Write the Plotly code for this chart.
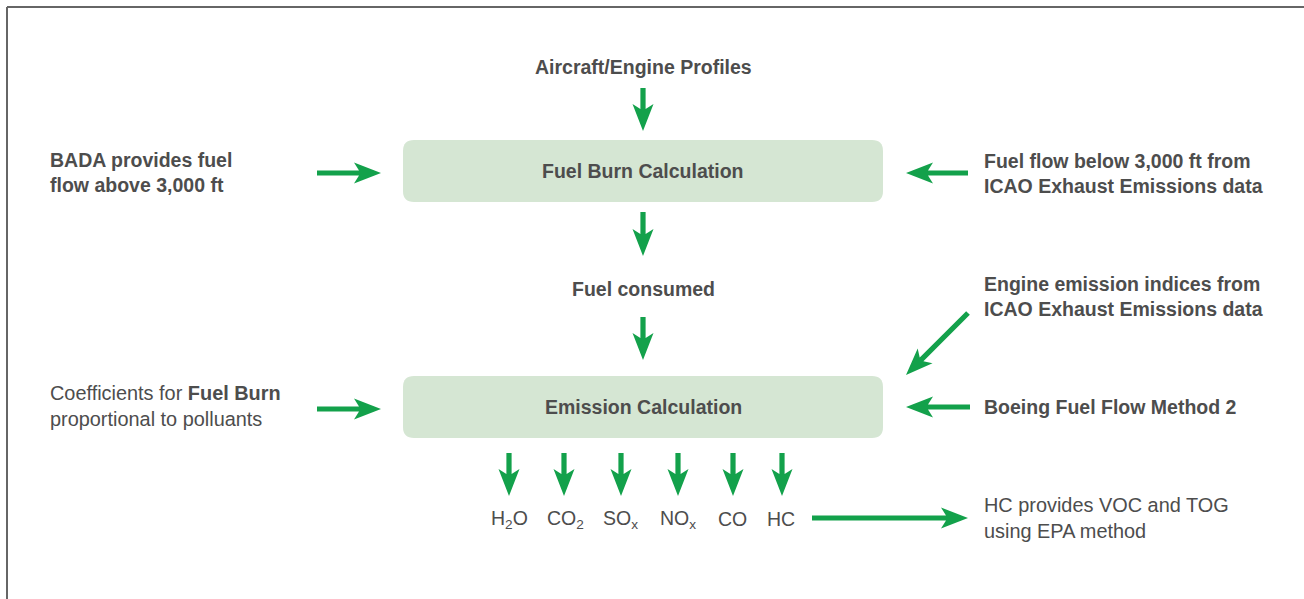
import math
import plotly.graph_objects as go

# ---------------- content ----------------
box_labels = ["Fuel Burn Calculation", "Emission Calculation"]
box_centers_y = [171, 407]
box_left, box_right, box_height = 403, 883, 62
center_x = 643

flow_labels = ["<b>Aircraft/Engine Profiles</b>", "<b>Fuel consumed</b>"]
flow_label_y = [67, 289]

left_labels = ["<b>BADA provides fuel<br>flow above 3,000 ft</b>",
               "Coefficients for <b>Fuel Burn</b><br>proportional to polluants"]
left_label_y = [172, 406]
left_label_size = [19.5, 19.9]

right_labels = ["<b>Fuel flow below 3,000 ft from<br>ICAO Exhaust Emissions data</b>",
                "<b>Engine emission indices from<br>ICAO Exhaust Emissions data</b>",
                "<b>Boeing Fuel Flow Method 2</b>",
                "HC provides VOC and TOG<br>using EPA method"]
right_label_y = [173, 296, 407, 518]
right_label_size = [19.5, 19.5, 19.5, 19.9]

pollutants = ["H<sub>2</sub>O", "CO<sub>2</sub>", "SO<sub>x</sub>", "NO<sub>x</sub>", "CO", "HC"]
pollutant_x = [509, 564, 621, 678, 733, 782]
pollutant_label_x = [509, 565, 620, 678, 732, 781]
pollutant_y = 519

GREEN = "#13a14b"
BOX_FILL = "#d5e6d3"
TEXT = "#4d4d4d"
FONT = "Liberation Sans, Arial, sans-serif"
W, H = 1304, 599


def arrow_path(x0, y0, x1, y1, shaft=2.6, head_len=27, head_w=10.5, notch=5):
    dx, dy = x1 - x0, y1 - y0
    L = math.hypot(dx, dy)
    ux, uy = dx / L, dy / L
    px, py = -uy, ux
    local = [(0, shaft), (L - head_len + notch, shaft), (L - head_len, head_w), (L, 0),
             (L - head_len, -head_w), (L - head_len + notch, -shaft), (0, -shaft)]
    pts = [(x0 + u * ux + v * px, y0 + u * uy + v * py) for u, v in local]
    return "M " + " L ".join(f"{x:.2f},{y:.2f}" for x, y in pts) + " Z"


def round_rect(x0, y0, x1, y1, r=11):
    return (f"M {x0+r},{y0} L {x1-r},{y0} Q {x1},{y0} {x1},{y0+r} "
            f"L {x1},{y1-r} Q {x1},{y1} {x1-r},{y1} L {x0+r},{y1} "
            f"Q {x0},{y1} {x0},{y1-r} L {x0},{y0+r} Q {x0},{y0} {x0+r},{y0} Z")


fig = go.Figure()
shapes = []
annotations = []

# frame
shapes.append(dict(type="line", x0=7, y0=7, x1=W, y1=7, line=dict(color="#666666", width=2)))
shapes.append(dict(type="line", x0=7, y0=7, x1=7, y1=H, line=dict(color="#666666", width=2)))

# boxes
for lab, cy in zip(box_labels, box_centers_y):
    shapes.append(dict(type="path", path=round_rect(box_left, cy - box_height / 2, box_right, cy + box_height / 2),
                       fillcolor=BOX_FILL, line=dict(width=0), layer="below"))
    annotations.append(dict(x=center_x, y=cy, text=f"<b>{lab}</b>", showarrow=False,
                            font=dict(size=19.5, color=TEXT, family=FONT)))

for lab, y in zip(flow_labels, flow_label_y):
    annotations.append(dict(x=center_x, y=y, text=lab, showarrow=False,
                            font=dict(size=19.5, color=TEXT, family=FONT)))

for lab, y, s in zip(left_labels, left_label_y, left_label_size):
    annotations.append(dict(x=48, y=y, text=lab, showarrow=False, xanchor="left", align="left",
                            font=dict(size=s, color=TEXT, family=FONT)))

for lab, y, s in zip(right_labels, right_label_y, right_label_size):
    annotations.append(dict(x=982, y=y, text=lab, showarrow=False, xanchor="left", align="left",
                            font=dict(size=s, color=TEXT, family=FONT)))

for lab, x in zip(pollutants, pollutant_label_x):
    annotations.append(dict(x=x, y=pollutant_y, text=lab, showarrow=False,
                            font=dict(size=19.5, color=TEXT, family=FONT)))

# arrows
arrows = []
arrows.append((center_x, 88, center_x, 131))
arrows.append((center_x, 212, center_x, 256))
arrows.append((center_x, 317, center_x, 360))
for cy in box_centers_y:
    arrows.append((317, cy + 2, 381, cy + 2))
arrows.append((968, 173, 906, 173))
arrows.append((968, 313, 906, 375))
arrows.append((970, 407, 906, 407))
for x in pollutant_x:
    arrows.append((x, 453, x, 496))
arrows.append((812, 518, 968, 518))

for a in arrows:
    shapes.append(dict(type="path", path=arrow_path(*a), fillcolor=GREEN, line=dict(width=0)))

fig.update_layout(
    width=W, height=H, margin=dict(l=0, r=0, t=0, b=0),
    paper_bgcolor="white", plot_bgcolor="white",
    xaxis=dict(range=[0, W], visible=False, fixedrange=True),
    yaxis=dict(range=[H, 0], visible=False, fixedrange=True),
    shapes=shapes, annotations=annotations, showlegend=False,
)
fig.write_html("out.html", config={"displayModeBar": False},
               post_script="document.body.style.margin='0';document.body.style.overflow='hidden';")
